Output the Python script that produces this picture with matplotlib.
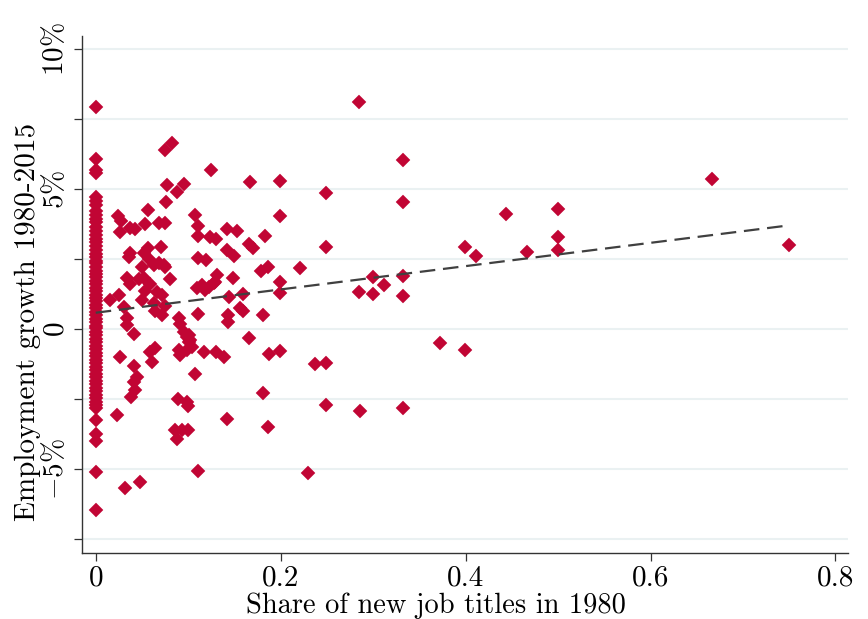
import matplotlib
matplotlib.use("Agg")
import matplotlib.pyplot as plt
import numpy as np

# ---- data ----
# occupations with zero new job titles in 1980: employment growth (%)
zero_share_growth = [7.93, 6.07, 5.68, 5.57, 4.71, 4.56, 4.41, 4.23, 4.06, 3.93, 3.81, 3.63,
                     3.49, 3.37, 3.22, 3.09, 2.96, 2.83, 2.69, 2.58, 2.44, 2.34, 2.21, 2.07,
                     1.96, 1.84, 1.73, 1.59, 1.47, 1.36, 1.23, 1.11, 1.01, 0.87, 0.76, 0.61,
                     0.51, 0.37, 0.26, 0.12, 0.03, -0.11, -0.21, -0.36, -0.47, -0.61, -0.71,
                     -0.86, -0.97, -1.11, -1.21, -1.36, -1.47, -1.61, -1.71, -1.86, -1.97,
                     -2.11, -2.21, -2.36, -2.47, -2.61, -2.71, -2.82, -3.25, -3.76, -4.00,
                     -5.10, -6.46]

# occupations with a positive share of new job titles
share_new_titles = [
    0.0825, 0.0753, 0.1247, 0.1665, 0.0771, 0.0951, 0.0879, 0.0764, 0.0562, 0.0241,
    0.0277, 0.0260, 0.0374, 0.0428, 0.0536, 0.0681, 0.0753, 0.1070, 0.1106, 0.1106,
    0.1240, 0.1300, 0.1420, 0.1528,
    0.3327, 0.1993, 0.2494, 0.3327, 0.1993, 0.1830, 0.1660, 0.1700, 0.2494, 0.1784,
    0.1860, 0.2213, 0.1993, 0.1596, 0.1993, 0.2996, 0.3121, 0.2851, 0.2996, 0.3327,
    0.3327, 0.1560, 0.1596, 0.1813, 0.1660, 0.1870, 0.1993, 0.2375, 0.2494, 0.3723,
    0.1813, 0.2494, 0.2862, 0.3327, 0.1860, 0.2299, 0.2847, 0.4437, 0.4996, 0.3994,
    0.4113, 0.4661, 0.4996, 0.4996, 0.3994, 0.6662, 0.7494,
    0.0374, 0.0357, 0.0562, 0.0520, 0.0706, 0.0573, 0.0627, 0.0681, 0.0735, 0.0753,
    0.0500, 0.1103, 0.1190, 0.1420, 0.1500, 0.0807, 0.0338, 0.0374, 0.0465, 0.0519,
    0.0590, 0.0663, 0.0717, 0.0530, 0.0249, 0.0158, 0.0500, 0.0627, 0.0746, 0.0638,
    0.0717, 0.0303, 0.1097, 0.1150, 0.1220, 0.1276, 0.1310, 0.1290, 0.1180, 0.1490,
    0.1438, 0.1428, 0.1428, 0.1106, 0.0338, 0.0338, 0.0898, 0.0915, 0.0951, 0.1006,
    0.0410, 0.0987, 0.1023, 0.1006, 0.1041, 0.0987, 0.0898, 0.0915, 0.0638, 0.0590,
    0.0608, 0.0266, 0.0410, 0.1168, 0.1300, 0.1384, 0.1077, 0.0447, 0.0410, 0.0428,
    0.0385, 0.0890, 0.0987, 0.0998, 0.0230, 0.1420, 0.0860, 0.0933, 0.0998, 0.0879,
    0.0320, 0.0482, 0.1106]
emp_growth = [
    6.65, 6.39, 5.67, 5.26, 5.13, 5.17, 4.88, 4.54, 4.26, 4.05,
    3.86, 3.48, 3.62, 3.56, 3.74, 3.77, 3.80, 4.07, 3.69, 3.32,
    3.30, 3.20, 3.57, 3.51,
    6.04, 5.27, 4.87, 4.54, 4.05, 3.31, 3.02, 2.90, 2.93, 2.07,
    2.23, 2.19, 1.67, 1.26, 1.27, 1.87, 1.56, 1.32, 1.24, 1.89,
    1.18, 0.74, 0.64, 0.50, -0.31, -0.89, -0.77, -1.26, -1.23, -0.51,
    -2.30, -2.71, -2.93, -2.83, -3.50, -5.15, 8.10, 4.12, 4.30, 2.94,
    2.62, 2.74, 3.27, 2.83, -0.76, 5.35, 3.00,
    2.70, 2.58, 2.88, 2.70, 2.94, 2.50, 2.29, 2.35, 2.29, 2.20,
    2.20, 2.55, 2.46, 2.82, 2.62, 1.78, 1.81, 1.60, 1.79, 1.83,
    1.60, 1.33, 1.21, 1.36, 1.21, 1.04, 1.04, 0.92, 0.82, 0.64,
    0.50, 0.80, 1.45, 1.57, 1.51, 1.63, 1.93, 1.69, 1.39, 1.81,
    1.15, 0.50, 0.25, 0.52, 0.40, 0.14, 0.40, 0.17, -0.10, -0.20,
    -0.18, -0.30, -0.38, -0.45, -0.63, -0.75, -0.75, -0.93, -0.69, -0.81,
    -1.17, -1.01, -1.32, -0.83, -0.83, -0.99, -1.61, -1.70, -1.88, -2.18,
    -2.42, -2.51, -2.60, -2.75, -3.07, -3.22, -3.61, -3.61, -3.61, -3.94,
    -5.67, -5.48, -5.06]

# fitted line
fit_intercept = 0.58
fit_slope = 4.16

xticks = [0, 0.2, 0.4, 0.6, 0.8]
xtick_labels = ["0", "0.2", "0.4", "0.6", "0.8"]
yticks_major = [-7.5, -5, -2.5, 0, 2.5, 5, 7.5, 10]
ytick_labels = ["", r"$-5\%$", "", r"$0$", "", r"$5\%$", "", r"$10\%$"]

# ---- plot ----
plt.rcParams["font.family"] = ["cmr10", "DejaVu Sans"]
plt.rcParams["mathtext.fontset"] = "cm"
plt.rcParams["axes.unicode_minus"] = False

fig = plt.figure(figsize=(8.68, 6.19), dpi=100)
ax = fig.add_axes([0.0945, 0.1066, 0.8825, 0.8352])

x_all = [0.0] * len(zero_share_growth) + share_new_titles
y_all = zero_share_growth + emp_growth

for yv in yticks_major:
    ax.axhline(yv, color="#EAF1F2", lw=1.5, zorder=0)

ax.plot(x_all, y_all, linestyle="none", marker="D", ms=7.0, mfc="#C10534",
        mec="#C10534", mew=0.3, zorder=3)

xfit = np.array([0.0, max(x_all)])
ax.plot(xfit, fit_intercept + fit_slope * xfit, color="#404040", lw=1.6,
        dashes=(7, 3.5), zorder=4)

ax.set_xlim(-0.0148, 0.8136)
ax.set_ylim(-8.0, 10.46)
ax.set_xticks(xticks)
ax.set_xticklabels(xtick_labels)
ax.set_yticks(yticks_major)
ax.set_yticklabels(ytick_labels, rotation=90, va="center")

for s in ["top", "right"]:
    ax.spines[s].set_visible(False)
for s in ["left", "bottom"]:
    ax.spines[s].set_color("#333333")
    ax.spines[s].set_linewidth(1.0)

ax.tick_params(axis="both", direction="out", length=6, width=0.9, color="#333333",
               labelsize=21, pad=3)
ax.set_xlabel("Share of new job titles in 1980", fontsize=20.5, labelpad=0)
ax.set_ylabel("Employment growth 1980-2015", fontsize=21, labelpad=0)
ax.xaxis.set_label_coords(0.462, -0.076)
ax.yaxis.set_label_coords(-0.053, 0.447)

fig.savefig("out.png", dpi=100)
